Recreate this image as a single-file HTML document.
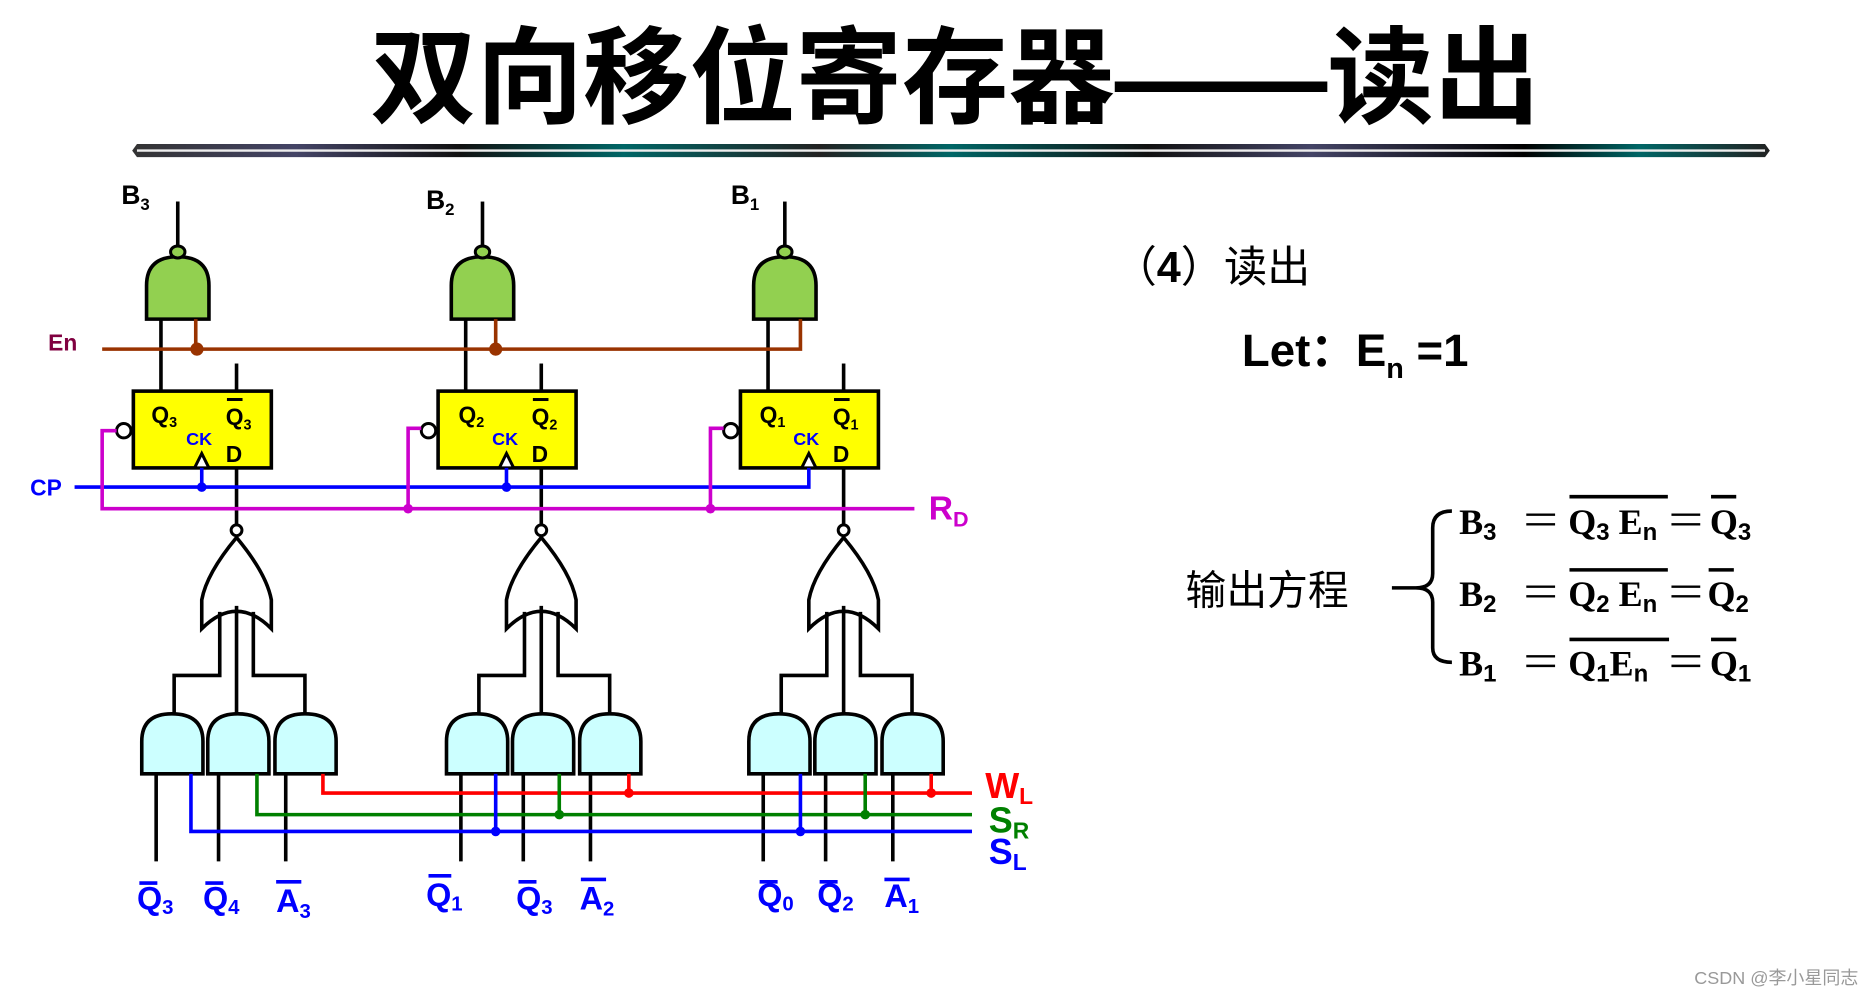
<!DOCTYPE html>
<html><head><meta charset="utf-8"><style>
html,body{margin:0;padding:0;background:#fff;}
svg{display:block;}
.t{font-family:"Liberation Sans","Noto Sans CJK SC",sans-serif;font-weight:bold;}
.c{font-family:"Liberation Sans","Noto Sans CJK SC",sans-serif;}
.m{font-family:"Liberation Serif",serif;font-weight:bold;}
</style></head><body>
<svg width="1872" height="991" viewBox="0 0 1560 826" xmlns="http://www.w3.org/2000/svg">
<defs>
<linearGradient id="bar" x1="0" x2="1" y1="0" y2="0">
<stop offset="0" stop-color="#333"/><stop offset="0.1" stop-color="#444466"/><stop offset="0.2" stop-color="#111"/>
<stop offset="0.3" stop-color="#006666"/><stop offset="0.42" stop-color="#222"/><stop offset="0.5" stop-color="#006666"/>
<stop offset="0.62" stop-color="#111"/><stop offset="0.72" stop-color="#444466"/><stop offset="0.85" stop-color="#000"/>
<stop offset="0.92" stop-color="#006666"/><stop offset="1" stop-color="#222"/>
</linearGradient>
<g id="stage">
 <line x1="148" y1="168" x2="148" y2="205" stroke="#000" stroke-width="3"/>
 <path d="M122 266 L122 238 Q122 214 148 214 Q174 214 174 238 L174 266 Z" fill="#92d050" stroke="#000" stroke-width="3"/>
 <ellipse cx="148" cy="210" rx="6" ry="5" fill="#92d050" stroke="#000" stroke-width="2.5"/>
 <line x1="134" y1="266" x2="134" y2="326" stroke="#000" stroke-width="3"/>
 <line x1="197" y1="303" x2="197" y2="326" stroke="#000" stroke-width="3"/>
 <rect x="111" y="326" width="115" height="64" fill="#ffff00" stroke="#000" stroke-width="3"/>
 <circle cx="103" cy="359" r="6" fill="#fff" stroke="#000" stroke-width="2.5"/>
 <path d="M162 390 L168 378 L174 390 Z" fill="#fff" stroke="#000" stroke-width="2.5"/>
 <line x1="197" y1="390" x2="197" y2="437" stroke="#000" stroke-width="3"/>
 <circle cx="197" cy="442" r="4.5" fill="#fff" stroke="#000" stroke-width="2.5"/>
 <path d="M197 448 Q172 478 168 500 L168 524 Q197 495 226 524 L226 500 Q222 478 197 448 Z" fill="#fff" stroke="#000" stroke-width="3"/>
 <path d="M183 510 L183 563 L145 563 L145 597 M197 505 L197 597 M211 510 L211 563 L254 563 L254 597" fill="none" stroke="#000" stroke-width="3"/>
 <path d="M118 645 L118 618 Q118 595 143 595 Q169 595 169 618 L169 645 Z" fill="#ccffff" stroke="#000" stroke-width="3"/>
 <path d="M173 645 L173 618 Q173 595 198 595 Q224 595 224 618 L224 645 Z" fill="#ccffff" stroke="#000" stroke-width="3"/>
 <path d="M229 645 L229 618 Q229 595 254 595 Q280 595 280 618 L280 645 Z" fill="#ccffff" stroke="#000" stroke-width="3"/>
 <path d="M130 645 L130 718 M182 645 L182 718 M238 645 L238 718" stroke="#000" stroke-width="3"/>
</g>
</defs>
<text x="796" y="96" text-anchor="middle" class="t" font-size="88" font-family="Noto Sans CJK SC" textLength="975" lengthAdjust="spacingAndGlyphs">双向移位寄存器——读出</text>
<path d="M110 125.5 L114 120 L1471 120 L1475 125.5 L1471 131 L114 131 Z" fill="url(#bar)"/>
<line x1="114" y1="125.5" x2="1471" y2="125.5" stroke="#eee" stroke-width="2"/>

<use href="#stage"/>
<use href="#stage" transform="translate(254,0)"/>
<use href="#stage" transform="translate(506,0)"/>

<text x="40" y="292" class="t" font-size="19" fill="#800040">En</text>
<path d="M85 291 L667 291 L667 266 M163 266 L163 291 M413 266 L413 291" fill="none" stroke="#993300" stroke-width="3"/>
<circle cx="164" cy="291" r="5.5" fill="#993300"/><circle cx="413" cy="291" r="5.5" fill="#993300"/>
<text x="25" y="413" class="t" font-size="19" fill="#0000ff">CP</text>
<path d="M62 406 L674 406 L674 390 M168 390 L168 406 M422 390 L422 406" fill="none" stroke="#0000ff" stroke-width="3"/>
<circle cx="168" cy="406" r="4" fill="#0000ff"/><circle cx="422" cy="406" r="4" fill="#0000ff"/>
<path d="M97 359 L85 359 L85 424 L762 424 M351 357 L340 357 L340 424 M603 357 L592 357 L592 424" fill="none" stroke="#cc00cc" stroke-width="3"/>
<circle cx="340" cy="424" r="4" fill="#cc00cc"/><circle cx="592" cy="424" r="4" fill="#cc00cc"/>
<text x="774" y="433" class="t" font-size="28" fill="#cc00cc">R<tspan font-size="18" dy="6">D</tspan></text>
<g class="t" font-size="19" fill="#000">
<text x="126" y="352">Q<tspan font-size="12" dy="4">3</tspan></text>
<text x="188" y="354">Q<tspan font-size="12" dy="4">3</tspan></text><line x1="189" y1="333" x2="202" y2="333" stroke="#000" stroke-width="2.5"/>
<text x="188" y="385">D</text>
<text x="382" y="352">Q<tspan font-size="12" dy="4">2</tspan></text>
<text x="443" y="354">Q<tspan font-size="12" dy="4">2</tspan></text><line x1="444" y1="333" x2="457" y2="333" stroke="#000" stroke-width="2.5"/>
<text x="443" y="385">D</text>
<text x="633" y="352">Q<tspan font-size="12" dy="4">1</tspan></text>
<text x="694" y="354">Q<tspan font-size="12" dy="4">1</tspan></text><line x1="695" y1="333" x2="708" y2="333" stroke="#000" stroke-width="2.5"/>
<text x="694" y="385">D</text>
</g>
<g class="t" font-size="15" fill="#0000ff">
<text x="155" y="371">CK</text><text x="410" y="371">CK</text><text x="661" y="371">CK</text>
</g>
<g class="t" font-size="22" fill="#000">
<text x="101" y="170">B<tspan font-size="14" dy="5">3</tspan></text>
<text x="355" y="174">B<tspan font-size="14" dy="5">2</tspan></text>
<text x="609" y="170">B<tspan font-size="14" dy="5">1</tspan></text>
</g>
<path d="M269 645 L269 661 L810 661 M524 645 L524 661 M776 645 L776 661" fill="none" stroke="#ff0000" stroke-width="3"/>
<circle cx="524" cy="661" r="4" fill="#ff0000"/><circle cx="776" cy="661" r="4" fill="#ff0000"/>
<path d="M214 645 L214 679 L810 679 M466 645 L466 679 M721 645 L721 679" fill="none" stroke="#008000" stroke-width="3"/>
<circle cx="466" cy="679" r="4" fill="#008000"/><circle cx="721" cy="679" r="4" fill="#008000"/>
<path d="M159 645 L159 693 L810 693 M413 645 L413 693 M667 645 L667 693" fill="none" stroke="#0000ff" stroke-width="3"/>
<circle cx="413" cy="693" r="4" fill="#0000ff"/><circle cx="667" cy="693" r="4" fill="#0000ff"/>
<g class="t" font-size="30">
<text x="821" y="665" fill="#ff0000">W<tspan font-size="19" dy="5">L</tspan></text>
<text x="824" y="694" fill="#008000">S<tspan font-size="19" dy="5">R</tspan></text>
<text x="824" y="720" fill="#0000ff">S<tspan font-size="19" dy="5">L</tspan></text>
</g>
<g class="t" font-size="27" fill="#0000ff">
<text x="114" y="758">Q<tspan font-size="17" dy="4">3</tspan></text>
<text x="169" y="758">Q<tspan font-size="17" dy="4">4</tspan></text>
<text x="230" y="760">A<tspan font-size="17" dy="5">3</tspan></text>
<text x="355" y="755">Q<tspan font-size="17" dy="4">1</tspan></text>
<text x="430" y="758">Q<tspan font-size="17" dy="4">3</tspan></text>
<text x="483" y="758">A<tspan font-size="17" dy="5">2</tspan></text>
<text x="631" y="755">Q<tspan font-size="17" dy="4">0</tspan></text>
<text x="681" y="755">Q<tspan font-size="17" dy="4">2</tspan></text>
<text x="737" y="756">A<tspan font-size="17" dy="5">1</tspan></text>
</g>
<g stroke="#0000ff" stroke-width="3">
<line x1="116" y1="736" x2="131" y2="736"/><line x1="171" y1="736" x2="186" y2="736"/><line x1="230" y1="735" x2="251" y2="735"/>
<line x1="357" y1="730" x2="376" y2="730"/><line x1="432" y1="735" x2="447" y2="735"/><line x1="484" y1="733" x2="505" y2="733"/>
<line x1="633" y1="735" x2="648" y2="735"/><line x1="683" y1="735" x2="698" y2="735"/><line x1="737" y1="733" x2="758" y2="733"/>
</g>
<text x="928" y="235" class="c" font-size="36" fill="#000" font-family="Noto Sans CJK SC">（<tspan font-weight="bold">4</tspan>）读出</text>
<text x="1035" y="305" class="t" font-size="38" fill="#000">Let：E<tspan font-size="24" dy="10">n</tspan><tspan dy="-10"> =1</tspan></text>
<text x="988" y="504" class="c" font-size="34" fill="#000" font-family="Noto Sans CJK SC">输出方程</text>
<path d="M1210 426 Q1194 426 1194 440 L1194 478 Q1194 490 1180 490 L1160 490 M1180 490 Q1194 490 1194 502 L1194 540 Q1194 552 1210 552" fill="none" stroke="#000" stroke-width="3"/>
<g class="m" font-size="30" fill="#000">
<text x="1216" y="445">B<tspan font-family="Liberation Sans" font-size="20" dy="5">3</tspan></text>
<text x="1216" y="505">B<tspan font-family="Liberation Sans" font-size="20" dy="5">2</tspan></text>
<text x="1216" y="563">B<tspan font-family="Liberation Sans" font-size="20" dy="5">1</tspan></text>
<text x="1307" y="445">Q<tspan font-family="Liberation Sans" font-size="20" dy="5">3</tspan><tspan dy="-5"> E</tspan><tspan font-family="Liberation Sans" font-size="20" dy="5">n</tspan></text>
<text x="1307" y="505">Q<tspan font-family="Liberation Sans" font-size="20" dy="5">2</tspan><tspan dy="-5"> E</tspan><tspan font-family="Liberation Sans" font-size="20" dy="5">n</tspan></text>
<text x="1307" y="563">Q<tspan font-family="Liberation Sans" font-size="20" dy="5">1</tspan><tspan dy="-5">E</tspan><tspan font-family="Liberation Sans" font-size="20" dy="5">n</tspan></text>
<text x="1425" y="445">Q<tspan font-family="Liberation Sans" font-size="20" dy="5">3</tspan></text>
<text x="1423" y="505">Q<tspan font-family="Liberation Sans" font-size="20" dy="5">2</tspan></text>
<text x="1425" y="563">Q<tspan font-family="Liberation Sans" font-size="20" dy="5">1</tspan></text>
</g>
<g stroke="#000" stroke-width="2">
<line x1="1272" y1="429" x2="1296" y2="429"/><line x1="1272" y1="437" x2="1296" y2="437"/>
<line x1="1393" y1="429" x2="1417" y2="429"/><line x1="1393" y1="437" x2="1417" y2="437"/>
<line x1="1272" y1="489" x2="1296" y2="489"/><line x1="1272" y1="497" x2="1296" y2="497"/>
<line x1="1393" y1="489" x2="1417" y2="489"/><line x1="1393" y1="497" x2="1417" y2="497"/>
<line x1="1272" y1="547" x2="1296" y2="547"/><line x1="1272" y1="555" x2="1296" y2="555"/>
<line x1="1393" y1="547" x2="1417" y2="547"/><line x1="1393" y1="555" x2="1417" y2="555"/>
</g>
<g stroke="#000" stroke-width="3">
<line x1="1308" y1="414" x2="1390" y2="414"/><line x1="1426" y1="414" x2="1447" y2="414"/>
<line x1="1308" y1="475" x2="1390" y2="475"/><line x1="1424" y1="475" x2="1445" y2="475"/>
<line x1="1308" y1="533" x2="1391" y2="533"/><line x1="1426" y1="533" x2="1447" y2="533"/>
</g>
<text x="1412" y="820" class="c" font-size="15" fill="#999" font-family="Noto Sans CJK SC">CSDN @李小星同志</text>
</svg>
</body></html>
